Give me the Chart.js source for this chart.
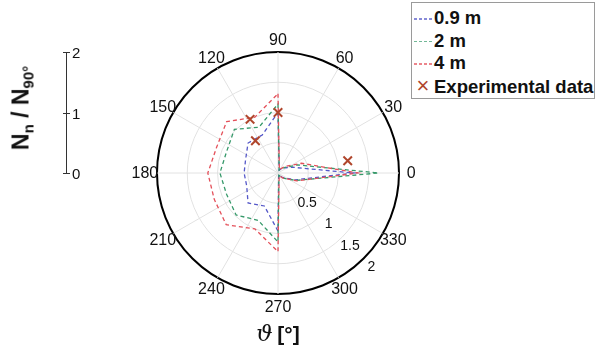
<!DOCTYPE html>
<html>
<head>
<meta charset="utf-8">
<script src="https://cdn.jsdelivr.net/npm/chart.js@4.4.0/dist/chart.umd.min.js"></script>
<style>
  html, body { margin: 0; padding: 0; background: #fff; }
  #wrap { position: relative; width: 597px; height: 347px; font-family: "Liberation Sans", Arial, sans-serif; color: #111; }
  #legend { position: absolute; left: 411px; top: 2px; width: 184px; height: 97px; border: 1px solid #9a9a9a;
            box-sizing: border-box; background: #fff; font-weight: bold; font-size: 18.5px; }
  #legend .row { position: absolute; left: 0; height: 22px; line-height: 22px; white-space: nowrap; }
  #legend .dash { display: inline-block; width: 18px; height: 1.3px; margin: 0 2px 0 2px; vertical-align: middle; opacity: 0.7; }
  #legend .xmark { display: inline-block; width: 18px; margin: 0 2px 0 2px; text-align: center; font-weight: normal; font-size: 22px; }
  #ytitle { position: absolute; left: 22px; top: 108px; transform: translate(-50%, -50%) rotate(-90deg);
            font-weight: bold; font-size: 23px; white-space: nowrap; }
  #ytitle sub { font-size: 15px; vertical-align: -5px; }
  #xtitle { position: absolute; left: 278px; top: 333px; transform: translate(-50%, -50%); white-space: nowrap; }
  #xtitle i { font-family: "DejaVu Serif", serif; font-size: 23px; }
  #xtitle b { font-size: 21px; }
</style>
</head>
<body>
<div id="wrap">
  <canvas id="polar" width="597" height="347"></canvas>
  <div id="legend"></div>
  <div id="ytitle">N<sub>n</sub> / N<sub>90°</sub></div>
  <div id="xtitle"><i>ϑ</i> <b>[°]</b></div>
</div>
<script>
// angles in degrees, counter-clockwise from the right, radius = N_n / N_90°
const simAngles = [0, 22.5, 45, 67.5, 90, 112.5, 135, 157.5, 180, 202.5, 225, 247.5, 270, 292.5, 315, 337.5];
const r09 = [1.25, 0.25, 0.12, 0.05, 1.00, 0.68, 0.70, 0.58, 0.56, 0.56, 0.70, 0.59, 0.96, 0.03, 0.10, 0.30];
const r2  = [1.66, 0.35, 0.12, 0.05, 1.14, 0.82, 1.02, 0.92, 0.96, 0.92, 0.98, 0.85, 1.14, 0.04, 0.12, 0.32];
const r4  = [1.32, 0.42, 0.15, 0.06, 1.31, 1.00, 1.20, 1.10, 1.16, 1.14, 1.21, 1.00, 1.30, 0.05, 0.12, 0.34];
const expAngles = [10, 90, 117.5, 125];
const expValues = [1.17, 1.00, 1.00, 0.65];

const angleTicks = [0, 30, 60, 90, 120, 150, 180, 210, 240, 270, 300, 330];
const radialTicks = [0.5, 1, 1.5, 2];
const sideTicks = [0, 1, 2];
const tickAngle = 315;   // where the radial tick labels sit

// chart.js radar goes clockwise from the top, so the categories run 90, 87.5, 85 ...
const step = 2.5;
const nCat = 360 / step;
const labels = [];
for (let i = 0; i < nCat; i++) {
  labels.push(String(((90 - i * step) % 360 + 360) % 360));
}
function catIndex(a) {
  return (((90 - a) / step) % nCat + nCat) % nCat;
}
function toSeries(angles, values) {
  const out = new Array(nCat).fill(null);
  angles.forEach((a, k) => { out[catIndex(a)] = values[k]; });
  return out;
}

function lineSet(label, values, color, order) {
  return {
    label: label,
    data: toSeries(simAngles, values),
    borderColor: color,
    borderWidth: 1.3,
    borderDash: [4, 3],
    pointRadius: 0,
    fill: false,
    spanGaps: true,
    order: order
  };
}

Chart.defaults.font.family = '"Liberation Sans", Arial, sans-serif';
Chart.defaults.color = '#111';

const extras = {
  id: 'extras',
  afterDraw(chart) {
    const s = chart.scales.r;
    const ctx = chart.ctx;
    ctx.save();
    ctx.fillStyle = '#111';
    ctx.textAlign = 'center';
    ctx.textBaseline = 'middle';
    // angle labels, centred just outside the rim
    ctx.font = '16px "Liberation Sans", Arial, sans-serif';
    angleTicks.forEach(a => {
      const p = s.getPointPosition(catIndex(a), s.drawingArea * 1.1);
      ctx.fillText(String(a), p.x, p.y + 1);
    });
    // radial tick labels, upright
    ctx.font = '14px "Liberation Sans", Arial, sans-serif';
    radialTicks.forEach(v => {
      const p = s.getPointPosition(catIndex(tickAngle), s.getDistanceFromCenterForValue(v) + 11);
      ctx.fillText(String(v), p.x, p.y + 1);
    });
    // small N_n / N_90 scale on the left
    const x = 66;
    const yOf = v => s.yCenter - s.getDistanceFromCenterForValue(v);
    ctx.strokeStyle = '#333';
    ctx.lineWidth = 1;
    ctx.beginPath();
    ctx.moveTo(x + 0.5, yOf(sideTicks[0]));
    ctx.lineTo(x + 0.5, yOf(sideTicks[sideTicks.length - 1]));
    sideTicks.forEach(v => {
      ctx.moveTo(x - 3, Math.round(yOf(v)) + 0.5);
      ctx.lineTo(x + 4, Math.round(yOf(v)) + 0.5);
    });
    ctx.stroke();
    ctx.font = '15px "Liberation Sans", Arial, sans-serif';
    ctx.textAlign = 'left';
    sideTicks.forEach(v => ctx.fillText(String(v), x + 6, yOf(v) + 2));
    ctx.restore();
  }
};

const chart = new Chart(document.getElementById('polar'), {
  type: 'radar',
  data: {
    labels: labels,
    datasets: [
      lineSet('0.9 m', r09, '#5558c8', 3),
      lineSet('2 m', r2, '#36996a', 2),
      lineSet('4 m', r4, '#e4505a', 1),
      {
        label: 'Experimental data',
        data: toSeries(expAngles, expValues),
        showLine: false,
        pointStyle: 'crossRot',
        pointRadius: 6,
        pointBorderWidth: 2,
        borderColor: '#b0462c',
        backgroundColor: '#b0462c',
        pointBorderColor: '#b0462c',
        order: 0
      }
    ]
  },
  options: {
    responsive: false,
    animation: false,
    events: [],
    layout: { padding: { left: 157, right: 197, top: 52, bottom: 52 } },
    plugins: { legend: { display: false }, tooltip: { enabled: false } },
    scales: {
      r: {
        min: 0,
        max: 2,
        ticks: { display: false, stepSize: 0.5 },
        grid: {
          circular: true,
          color: c => c.tick.value === 2 ? '#000' : '#e2e2e2',
          lineWidth: c => c.tick.value === 2 ? 2 : 1
        },
        angleLines: {
          color: c => angleTicks.includes(Number(labels[c.index])) ? '#e2e2e2' : 'rgba(0,0,0,0)',
          lineWidth: 1
        },
        pointLabels: { display: false }
      }
    }
  },
  plugins: [extras]
});

// legend box built from the datasets
const legend = document.getElementById('legend');
chart.data.datasets.forEach((ds, i) => {
  const row = document.createElement('div');
  row.className = 'row';
  row.style.top = (4 + i * 22.5) + 'px';
  const mark = document.createElement('span');
  if (ds.showLine === false) {
    mark.className = 'xmark';
    mark.style.color = ds.borderColor;
    mark.textContent = '×';
  } else {
    mark.className = 'dash';
    mark.style.background = 'repeating-linear-gradient(to right, ' + ds.borderColor + ' 0 3px, transparent 3px 5px)';
  }
  row.appendChild(mark);
  row.appendChild(document.createTextNode(ds.label));
  legend.appendChild(row);
});
</script>
</body>
</html>
